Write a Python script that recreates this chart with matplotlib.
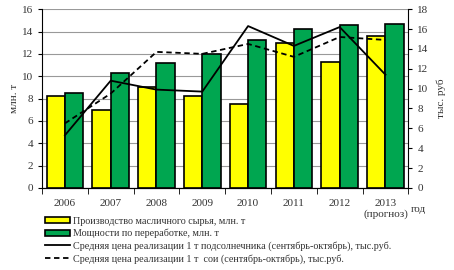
import matplotlib.pyplot as plt
import numpy as np

plt.rcParams['font.family'] = ['Liberation Serif', 'DejaVu Serif']

years = ['2006', '2007', '2008', '2009', '2010', '2011', '2012', '2013\n(прогноз)']
production = [8.2, 7.0, 9.0, 8.2, 7.5, 13.0, 11.3, 13.6]
capacity = [8.5, 10.3, 11.2, 12.0, 13.2, 14.2, 14.6, 14.7]
price_sunflower = [5.3, 10.8, 9.9, 9.7, 16.3, 14.3, 16.2, 11.4]
price_soy = [6.5, 9.5, 13.7, 13.5, 14.5, 13.2, 15.2, 14.9]

fig = plt.figure(figsize=(4.54, 2.70), dpi=100)
ax = fig.add_axes([0.0925, 0.304, 0.807, 0.662])
x = np.arange(len(years))
w = 0.4

b1 = ax.bar(x - w / 2, production, w, color='#FFFF00', edgecolor='black', linewidth=1.2,
            label='Производство масличного сырья, млн. т', zorder=3)
b2 = ax.bar(x + w / 2, capacity, w, color='#00A650', edgecolor='black', linewidth=1.2,
            label='Мощности по переработке, млн. т', zorder=3)

ax.set_ylim(0, 16)
ax.set_yticks(range(0, 17, 2))
ax.set_xlim(-0.5, len(years) - 0.5)
ax.set_xticks(x)
ax.set_xticklabels(years, fontsize=8, color='#333333')
ax.set_xticks(np.arange(-0.5, len(years), 1), minor=True)
ax.tick_params(axis='x', which='major', length=0, pad=8)
ax.tick_params(axis='x', which='minor', length=4, direction='out')
ax.tick_params(axis='y', labelsize=8, labelcolor='#333333', length=3)
ax.grid(axis='y', color='#999999', linewidth=0.8, zorder=0)
ax.spines['top'].set_visible(False)
ax.spines['right'].set_visible(False)
ax.set_ylabel('млн. т', fontsize=8, color='#333333', labelpad=2)

ax2 = ax.twinx()
l1, = ax2.plot(x, price_sunflower, color='black', linewidth=1.3, zorder=4,
               label='Средняя цена реализации 1 т подсолнечника (сентябрь-октябрь), тыс.руб.')
l2, = ax2.plot(x, price_soy, color='black', linewidth=1.3, linestyle='--', dashes=(3, 2), zorder=4,
               label='Средняя цена реализации 1 т  сои (сентябрь-октябрь), тыс.руб.')
ax2.set_ylim(0, 18)
ax2.set_yticks(range(0, 19, 2))
ax2.tick_params(axis='y', labelsize=8, labelcolor='#333333', length=3)
ax2.spines['top'].set_visible(False)
ax2.spines['left'].set_visible(False)
ax2.set_ylabel('тыс. руб', fontsize=8, color='#333333', labelpad=6)

fig.text(0.905, 0.215, 'год', fontsize=8, color='#333333')

fig.legend(handles=[b1, b2, l1, l2], loc='lower left', bbox_to_anchor=(0.085, 0.0),
           frameon=False, fontsize=7.3, handlelength=2.5, handleheight=0.6,
           labelspacing=0.3, borderpad=0.1, handletextpad=0.3, labelcolor='#333333')

fig.savefig('out.png', dpi=100)
